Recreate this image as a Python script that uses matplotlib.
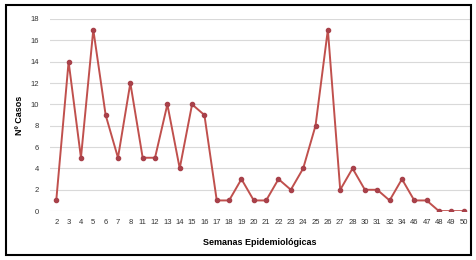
import matplotlib
matplotlib.use("Agg")
import matplotlib.pyplot as plt
from matplotlib.patches import Rectangle

semanas = ["2", "3", "4", "5", "6", "7", "8", "11", "12", "13", "14", "15", "16",
           "17", "18", "19", "20", "21", "22", "23", "24", "25", "26", "27", "28",
           "30", "31", "32", "34", "46", "47", "48", "49", "50"]
casos = [1, 14, 5, 17, 9, 5, 12, 5, 5, 10, 4, 10, 9,
         1, 1, 3, 1, 1, 3, 2, 4, 8, 17, 2, 4,
         2, 2, 1, 3, 1, 1, 0, 0, 0]

plt.rcParams["font.family"] = ["Liberation Sans", "DejaVu Sans"]

fig = plt.figure(figsize=(4.77, 2.6), dpi=100)
ax = fig.add_axes([0.105, 0.188, 0.88, 0.739])

x = list(range(len(semanas)))
ax.plot(x, casos, color="#c0504d", linewidth=1.4, marker="o", markersize=3,
        markerfacecolor="#a8414a", markeredgecolor="#a8414a")

ax.set_xlim(-0.5, len(semanas) - 0.5)
ax.set_ylim(0, 18)
ax.set_yticks(range(0, 19, 2))
ax.set_xticks(x)
ax.set_xticklabels(semanas)
ax.tick_params(axis="both", length=0, labelsize=5.5, labelcolor="#333333")
ax.tick_params(axis="x", pad=6)
ax.tick_params(axis="y", pad=8)
ax.grid(axis="y", color="#d9d9d9", linewidth=0.8)
ax.set_axisbelow(True)
for s in ax.spines.values():
    s.set_visible(False)

ax.set_xlabel("Semanas Epidemiológicas", fontsize=6.5, fontweight="bold", labelpad=8)
ax.set_ylabel("Nº Casos", fontsize=6.5, fontweight="bold", labelpad=5)

fig.patches.append(Rectangle((0.013, 0.02), 0.974, 0.96, transform=fig.transFigure,
                             fill=False, edgecolor="black", linewidth=1.5))

fig.savefig("out.png", dpi=100)
